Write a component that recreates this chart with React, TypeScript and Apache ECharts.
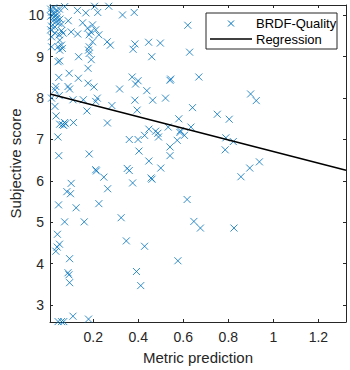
import React, { useEffect, useRef } from "react";
import * as echarts from "echarts";

const metricPrediction = [
  0.073, 0.206, 0.269, 0.130, 0.167, 0.220, 0.330, 0.382, 0.620, 0.089,
  0.153, 0.197, 0.175, 0.189, 0.211, 0.225, 0.182, 0.102, 0.131, 0.059,
  0.066, 0.049, 0.015, 0.030, 0.051, 0.059, 0.044, 0.063, 0.051, 0.015,
  0.197, 0.262, 0.276, 0.182, 0.179, 0.182, 0.135, 0.191, 0.385, 0.377,
  0.446, 0.498, 0.460, 0.628, 0.011, 0.024, 0.037, 0.050, 0.015, 0.028,
  0.041, 0.011, 0.026, 0.039, 0.052, 0.020, 0.033, 0.046, 0.059, 0.015,
  0.030, 0.011, 0.044, 0.051, 0.177, 0.093, 0.047, 0.134, 0.177, 0.203,
  0.088, 0.095, 0.034, 0.030, 0.317, 0.015, 0.049, 0.110, 0.156, 0.218,
  0.211, 0.283, 0.030, 0.172, 0.373, 0.399, 0.388, 0.544, 0.541, 0.669,
  0.438, 0.385, 0.464, 0.521, 0.641, 0.395, 0.899, 0.924, 0.751, 0.580,
  0.804, 0.634, 0.533, 0.035, 0.051, 0.063, 0.073, 0.077, 0.069, 0.112,
  0.263, 0.043, 0.360, 0.399, 0.428, 0.447, 0.477, 0.487, 0.490, 0.587,
  0.585, 0.605, 0.573, 0.541, 0.541, 0.403, 0.789, 0.822, 0.786, 0.938,
  0.895, 0.856, 0.447, 0.500, 0.047, 0.182, 0.211, 0.214, 0.247, 0.351,
  0.360, 0.375, 0.457, 0.461, 0.102, 0.083, 0.099, 0.264, 0.046, 0.124,
  0.225, 0.073, 0.160, 0.324, 0.617, 0.647, 0.676, 0.825, 0.041, 0.050,
  0.040, 0.034, 0.095, 0.088, 0.092, 0.095, 0.347, 0.428, 0.576, 0.392,
  0.411, 0.110, 0.179, 0.044, 0.059, 0.069,
];

const subjectiveScore = [
  10.21, 10.22, 10.22, 10.12, 10.06, 10.07, 10.01, 10.07, 9.76, 9.87,
  9.82, 9.77, 9.69, 9.60, 9.65, 9.53, 9.53, 9.60, 9.55, 9.63,
  9.57, 9.53, 9.48, 9.57, 9.40, 9.28, 9.24, 9.20, 9.16, 9.24,
  9.36, 9.36, 9.28, 9.24, 9.16, 9.08, 9.00, 8.93, 9.31, 9.18,
  9.35, 9.33, 9.00, 9.11, 10.15, 10.18, 10.13, 10.15, 10.08, 10.04,
  10.03, 9.98, 9.96, 9.94, 9.91, 9.86, 9.84, 9.81, 9.79, 9.74,
  9.72, 9.65, 8.88, 8.90, 8.72, 8.60, 8.50, 8.48, 8.36, 8.27,
  8.28, 8.22, 8.28, 8.20, 8.22, 8.00, 8.06, 7.96, 7.96, 8.00,
  7.92, 7.82, 7.80, 7.69, 8.51, 8.42, 8.34, 8.46, 8.43, 8.51,
  8.18, 7.95, 7.95, 8.00, 7.77, 7.71, 8.10, 7.94, 7.61, 7.50,
  7.49, 7.30, 7.30, 7.57, 7.37, 7.36, 7.41, 7.38, 7.34, 7.41,
  7.40, 7.06, 7.00, 7.00, 7.10, 7.25, 7.20, 7.15, 7.06, 7.21,
  7.17, 7.10, 6.98, 6.82, 6.61, 6.72, 7.04, 6.95, 6.75, 6.46,
  6.31, 6.10, 6.48, 6.31, 6.61, 6.65, 6.27, 6.24, 6.09, 6.30,
  6.25, 5.95, 6.07, 6.04, 5.94, 5.74, 5.69, 5.81, 5.42, 5.35,
  5.45, 5.01, 5.01, 5.11, 5.55, 5.02, 4.86, 4.86, 4.71, 4.47,
  4.40, 4.30, 4.12, 3.78, 3.73, 3.54, 4.55, 4.42, 4.07, 3.81,
  3.47, 2.73, 2.66, 2.60, 2.60, 2.60,
];

const regressionX = [0.008, 1.3226];
const regressionY = [8.1, 6.255];

const xTicks = [0.2, 0.4, 0.6, 0.8, 1, 1.2];
const yTicks = [3, 4, 5, 6, 7, 8, 9, 10];

const legendLabels = ["BRDF-Quality", "Regression"];

const AX = "#262626";
const BLUE = "#0072BD";
const FONT = "Liberation Sans, Arial, Helvetica, sans-serif";

export default function App() {
  const ref = useRef<HTMLDivElement>(null);

  useEffect(() => {
    if (!ref.current) return;
    const chart = echarts.init(ref.current, undefined, { renderer: "svg" });

    const xBase = {
      type: "value" as const,
      min: 0.008,
      max: 1.3226,
      splitLine: { show: false },
      axisLine: { show: true, lineStyle: { color: AX, width: 1 } },
      axisTick: {
        show: true,
        inside: true,
        length: 3,
        customValues: xTicks,
        lineStyle: { color: AX, width: 1 },
      },
    };
    const yBase = {
      type: "value" as const,
      min: 2.59,
      max: 10.25,
      splitLine: { show: false },
      axisLine: { show: true, lineStyle: { color: AX, width: 1 } },
      axisTick: {
        show: true,
        inside: true,
        length: 3,
        customValues: yTicks,
        lineStyle: { color: AX, width: 1 },
      },
    };

    const points = metricPrediction.map((x, i) => [x, subjectiveScore[i]]);
    const regression = regressionX.map((x, i) => [x, regressionY[i]]);

    const lx = 206;
    const ly = 13;
    const lw = 131;
    const lh = 36;

    chart.setOption({
      animation: false,
      textStyle: { fontFamily: FONT },
      grid: { left: 43, right: 4, top: 5, bottom: 47, containLabel: false },
      xAxis: [
        {
          ...xBase,
          position: "bottom",
          name: "Metric prediction",
          nameLocation: "middle",
          nameGap: 28,
          nameMoveOverlap: false,
          nameTextStyle: { color: AX, fontSize: 15, fontFamily: FONT },
          axisLabel: {
            show: true,
            customValues: xTicks,
            color: AX,
            fontSize: 14,
            margin: 8,
            fontFamily: FONT,
          },
        },
        {
          ...xBase,
          position: "top",
          axisLabel: { show: false },
        },
      ],
      yAxis: [
        {
          ...yBase,
          position: "left",
          name: "Subjective score",
          nameLocation: "middle",
          nameGap: 27,
          nameMoveOverlap: false,
          nameTextStyle: { color: AX, fontSize: 15, fontFamily: FONT },
          axisLabel: {
            show: true,
            customValues: yTicks,
            color: AX,
            fontSize: 14,
            margin: 6,
            fontFamily: FONT,
          },
        },
        {
          ...yBase,
          position: "right",
          axisLabel: { show: false },
        },
      ],
      series: [
        {
          name: legendLabels[0],
          type: "scatter",
          xAxisIndex: 0,
          yAxisIndex: 0,
          data: points,
          symbol: "path://M0,0L10,10M10,0L0,10",
          symbolSize: 7,
          itemStyle: { color: "none", borderColor: BLUE, borderWidth: 1 },
          z: 2,
        },
        {
          name: legendLabels[1],
          type: "line",
          xAxisIndex: 0,
          yAxisIndex: 0,
          data: regression,
          showSymbol: false,
          symbol: "none",
          lineStyle: { color: "#000000", width: 1.5 },
          z: 3,
        },
      ],
      graphic: [
        {
          type: "group",
          z: 100,
          children: [
            {
              type: "rect",
              shape: { x: lx, y: ly, width: lw, height: lh },
              style: { fill: "#ffffff", stroke: AX, lineWidth: 1 },
            },
            {
              type: "line",
              shape: { x1: 228, y1: 20.5, x2: 234, y2: 26.5 },
              style: { stroke: BLUE, lineWidth: 1 },
            },
            {
              type: "line",
              shape: { x1: 234, y1: 20.5, x2: 228, y2: 26.5 },
              style: { stroke: BLUE, lineWidth: 1 },
            },
            {
              type: "text",
              x: 256,
              y: 23.5,
              style: {
                text: legendLabels[0],
                fill: "#000000",
                fontSize: 13,
                fontFamily: FONT,
                verticalAlign: "middle",
                align: "left",
              },
            },
            {
              type: "line",
              shape: { x1: 210, y1: 39, x2: 252, y2: 39 },
              style: { stroke: "#000000", lineWidth: 1.5 },
            },
            {
              type: "text",
              x: 256,
              y: 39.5,
              style: {
                text: legendLabels[1],
                fill: "#000000",
                fontSize: 13,
                fontFamily: FONT,
                verticalAlign: "middle",
                align: "left",
              },
            },
          ],
        },
      ],
    });

    return () => chart.dispose();
  }, []);

  return (
    <div
      ref={ref}
      style={{ position: "fixed", left: 0, top: 0, width: 350, height: 370, background: "#ffffff" }}
    />
  );
}
